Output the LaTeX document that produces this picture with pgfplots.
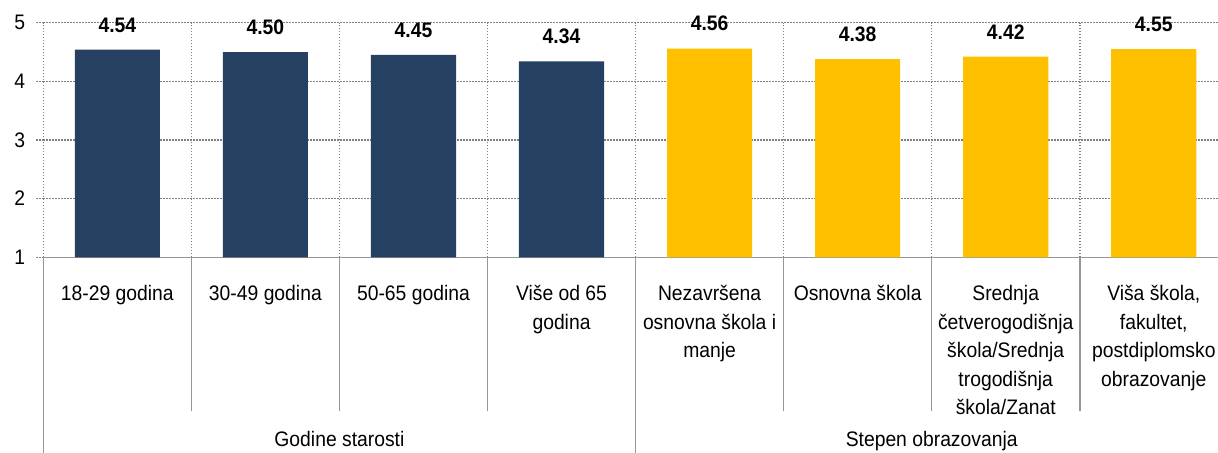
\documentclass[border=0pt]{standalone}
\usepackage{fontspec}
\setmainfont{Liberation Sans}[FakeStretch=0.92]
\usepackage{pgfplots}
\pgfplotsset{compat=1.18}
\definecolor{navybar}{RGB}{38,64,97}
\definecolor{goldbar}{RGB}{255,192,0}
\definecolor{sepgray}{RGB}{150,150,150}
\definecolor{gridgray}{RGB}{128,128,128}

\begin{document}
\begin{tikzpicture}
\begin{axis}[
    at={(0,0)}, anchor=south west,
    scale only axis, width=592.25pt, height=117.3pt,
    xmin=0, xmax=8, ymin=1, ymax=5,
    clip mode=individual,
    /pgf/number format/assume math mode=true,
    axis x line*=bottom, axis y line*=left,
    x axis line style={sepgray, line width=0.75pt, -},
    y axis line style={gridgray, line width=0.75pt, dash pattern=on 0.75pt off 0.75pt, -},
    ytick={1,2,3,4,5},
    ymajorgrids=true,
    grid style={gridgray, line width=0.75pt, dash pattern=on 0.75pt off 0.75pt},
    tick align=outside,
    major tick length=3.5pt,
    ytick style={gridgray, line width=0.75pt, dash pattern=on 0.75pt off 0.75pt},
    xtick={0.5,1.5,2.5,3.5,4.5,5.5,6.5,7.5},
    xtick style={draw=none},
    xticklabels={
        {18-29 godina},
        {30-49 godina},
        {50-65 godina},
        {Više od 65\\godina},
        {Nezavršena\\osnovna škola i\\manje},
        {Osnovna škola},
        {Srednja\\četverogodišnja\\škola/Srednja\\trogodišnja\\škola/Zanat},
        {Viša škola,\\fakultet,\\postdiplomsko\\obrazovanje}},
    xticklabel style={anchor=north, align=center, inner sep=0pt, yshift=-10.35pt,
        font=\fontsize{10.5}{14.25}\selectfont},
    yticklabel style={font=\fontsize{10.5}{12}\selectfont, xshift=-2pt},
    extra x ticks={1,2,3,4,5,6,7},
    extra x tick labels={},
    extra x tick style={grid=major, major tick length=0pt},
    bar width=0.575,
    nodes near coords={\pgfmathprintnumber[fixed,fixed zerofill,precision=2]{\pgfplotspointmeta}},
    every node near coord/.append style={font=\fontsize{10.5}{12}\selectfont\bfseries,
        inner sep=0pt, yshift=8.5pt},
]
% Godine starosti
\addplot[ybar, bar shift=0pt, fill=navybar, draw=none] coordinates {
    (0.5,4.54) (1.5,4.50) (2.5,4.45) (3.5,4.34)
};
% Stepen obrazovanja
\addplot[ybar, bar shift=0pt, fill=goldbar, draw=none] coordinates {
    (4.5,4.56) (5.5,4.38) (6.5,4.42) (7.5,4.55)
};

% category separators below the axis
\draw[sepgray, line width=0.75pt] (axis cs:1,1) -- ++(0pt,-76.85pt);
\draw[sepgray, line width=0.75pt] (axis cs:2,1) -- ++(0pt,-76.85pt);
\draw[sepgray, line width=0.75pt] (axis cs:3,1) -- ++(0pt,-76.85pt);
\draw[sepgray, line width=0.75pt] (axis cs:5,1) -- ++(0pt,-76.85pt);
\draw[sepgray, line width=0.75pt] (axis cs:6,1) -- ++(0pt,-76.85pt);
\draw[sepgray, line width=0.75pt] (axis cs:7,1) -- ++(0pt,-76.85pt);
\draw[sepgray, line width=0.75pt] (axis cs:0,1) -- ++(0pt,-100pt);
\draw[sepgray, line width=0.75pt] (axis cs:4,1) -- ++(0pt,-100pt);

% group labels
\node[anchor=base, inner sep=0pt, yshift=-94.7pt, font=\fontsize{10.5}{12}\selectfont]
    at (axis cs:2,1) {Godine starosti};
\node[anchor=base, inner sep=0pt, yshift=-94.7pt, font=\fontsize{10.5}{12}\selectfont]
    at (axis cs:6,1) {Stepen obrazovanja};
\end{axis}
\pgfresetboundingbox
\path[use as bounding box] (-21.65pt,-97.35pt) rectangle (587.35pt,128.65pt);
\end{tikzpicture}
\end{document}
